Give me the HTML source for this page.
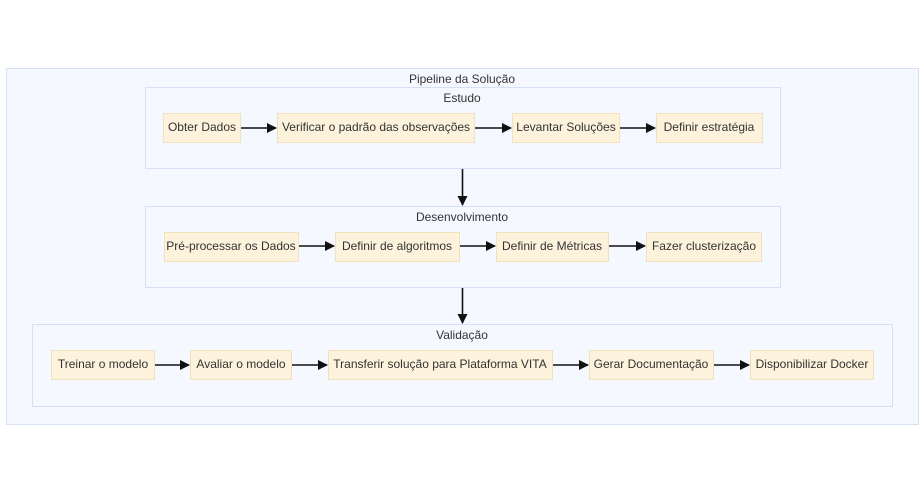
<!DOCTYPE html>
<html><head><meta charset="utf-8"><style>
html,body{margin:0;padding:0;background:#fff;}
svg{display:block;}
text{font-family:"Liberation Sans",sans-serif;font-size:12px;fill:#333;}
.cl{fill:#f5f8fe;stroke:#d6e0f5;stroke-width:1;}
.nd{fill:#fdf2dc;stroke:#f0e2bd;stroke-width:1;}
.ln{stroke:#111;stroke-width:1.6;fill:none;}
</style></head><body>
<svg width="924" height="493" viewBox="0 0 924 493">
<defs><marker id="a" markerWidth="10" markerHeight="10" refX="9" refY="5" orient="auto" markerUnits="userSpaceOnUse"><path d="M0,0 L10,5 L0,10 z" fill="#111"/></marker></defs>
<rect class="cl" x="6.5" y="68.5" width="912" height="356"/>
<text x="462" y="83" text-anchor="middle">Pipeline da Solução</text>
<rect class="cl" x="145.5" y="87.5" width="635" height="81"/>
<text x="462" y="102" text-anchor="middle">Estudo</text>
<rect class="cl" x="145.5" y="206.5" width="635" height="81"/>
<text x="462" y="221" text-anchor="middle">Desenvolvimento</text>
<rect class="cl" x="32.5" y="324.5" width="860" height="82"/>
<text x="462" y="339" text-anchor="middle">Validação</text>

<g>
<rect class="nd" x="163.5" y="113.5" width="77" height="29"/><text x="202" y="131" text-anchor="middle">Obter Dados</text>
<rect class="nd" x="277.5" y="113.5" width="197" height="29"/><text x="376" y="131" text-anchor="middle">Verificar o padrão das observações</text>
<rect class="nd" x="512.5" y="113.5" width="107" height="29"/><text x="566" y="131" text-anchor="middle">Levantar Soluções</text>
<rect class="nd" x="656.5" y="113.5" width="106" height="29"/><text x="709" y="131" text-anchor="middle">Definir estratégia</text>
<line class="ln" x1="241" y1="128" x2="276" y2="128" marker-end="url(#a)"/>
<line class="ln" x1="475" y1="128" x2="511" y2="128" marker-end="url(#a)"/>
<line class="ln" x1="620" y1="128" x2="655" y2="128" marker-end="url(#a)"/>

<rect class="nd" x="164.5" y="232.5" width="134" height="29"/><text x="231" y="250" text-anchor="middle">Pré-processar os Dados</text>
<rect class="nd" x="335.5" y="232.5" width="124" height="29"/><text x="397" y="250" text-anchor="middle">Definir de algoritmos</text>
<rect class="nd" x="496.5" y="232.5" width="112" height="29"/><text x="552" y="250" text-anchor="middle">Definir de Métricas</text>
<rect class="nd" x="646.5" y="232.5" width="115" height="29"/><text x="704" y="250" text-anchor="middle">Fazer clusterização</text>
<line class="ln" x1="299" y1="246" x2="334" y2="246" marker-end="url(#a)"/>
<line class="ln" x1="460" y1="246" x2="495" y2="246" marker-end="url(#a)"/>
<line class="ln" x1="609" y1="246" x2="645" y2="246" marker-end="url(#a)"/>

<rect class="nd" x="51.5" y="350.5" width="103" height="29"/><text x="103" y="368" text-anchor="middle">Treinar o modelo</text>
<rect class="nd" x="190.5" y="350.5" width="101" height="29"/><text x="241" y="368" text-anchor="middle">Avaliar o modelo</text>
<rect class="nd" x="328.5" y="350.5" width="224" height="29"/><text x="440" y="368" text-anchor="middle">Transferir solução para Plataforma VITA</text>
<rect class="nd" x="589.5" y="350.5" width="124" height="29"/><text x="651" y="368" text-anchor="middle">Gerar Documentação</text>
<rect class="nd" x="750.5" y="350.5" width="123" height="29"/><text x="812" y="368" text-anchor="middle">Disponibilizar Docker</text>
<line class="ln" x1="155" y1="365" x2="189" y2="365" marker-end="url(#a)"/>
<line class="ln" x1="292" y1="365" x2="327" y2="365" marker-end="url(#a)"/>
<line class="ln" x1="553" y1="365" x2="588" y2="365" marker-end="url(#a)"/>
<line class="ln" x1="714" y1="365" x2="749" y2="365" marker-end="url(#a)"/>

<line class="ln" x1="462.5" y1="169" x2="462.5" y2="205" marker-end="url(#a)"/>
<line class="ln" x1="462.5" y1="288" x2="462.5" y2="323" marker-end="url(#a)"/>
</g>
</svg>
</body></html>
